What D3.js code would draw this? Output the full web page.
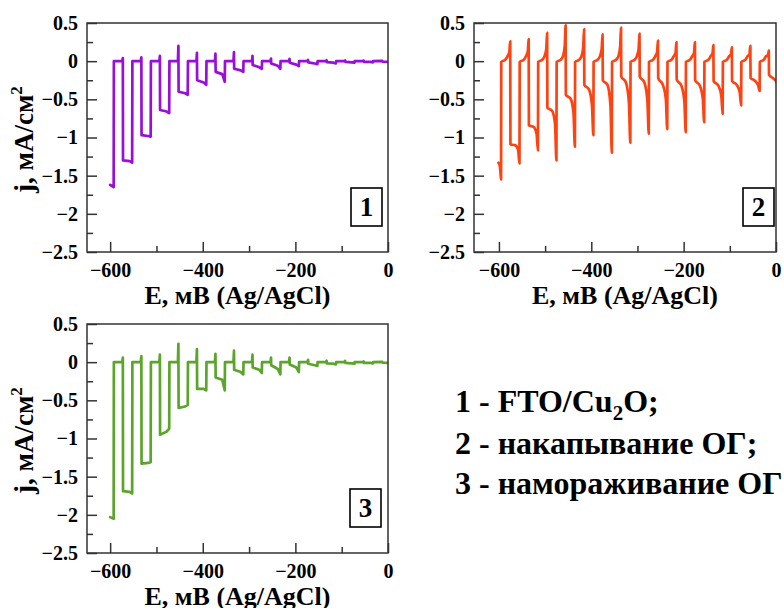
<!DOCTYPE html>
<html><head><meta charset="utf-8">
<script src="https://cdn.jsdelivr.net/npm/d3@7/dist/d3.min.js"></script>
<style>body{margin:0;background:#fff}svg{display:block}</style>
</head><body>
<svg id="chart" width="784" height="608"></svg>
<script>
// ---------- data ----------
const xMajor = [-600, -400, -200, 0];
const xMinor = [-500, -300, -100];
const xTickLabels = ["\u2212600", "\u2212400", "\u2212200", "0"];
const yMajor = [0.5, 0, -0.5, -1, -1.5, -2, -2.5];
const yMinor = [0.25, -0.25, -0.75, -1.25, -1.75, -2.25];
const yTickLabels = ["0.5", "0", "\u22120.5", "\u22121", "\u22121.5", "\u22122", "\u22122.5"];

// panel 1 (FTO/Cu2O): dark onset potentials and per-cycle values
const darkOn1 = [-592, -552, -512, -472, -432, -392, -352, -312, -272, -232, -192, -152, -112, -72, -32];
const start1 = [-1.62, -1.65];
const spike1 = [0.04, 0.05, 0.07, 0.20, 0.11, 0.10, 0.12, 0.07, 0.035, 0.03, 0.015, 0.012, 0.01, 0.008, 0.005];
const lightA1 = [-1.30, -0.97, -0.64, -0.40, -0.25, -0.14, -0.10, -0.05, -0.03, -0.02, -0.015, -0.012, -0.01, -0.008, -0.005];
const lightB1 = [-1.31, -0.98, -0.66, -0.42, -0.28, -0.17, -0.12, -0.08, -0.06, -0.045, -0.03, -0.02, -0.015, -0.01, -0.01];
const lightC1 = [-1.33, -0.99, -0.68, -0.44, -0.31, -0.27, -0.14, -0.10, -0.10, -0.065, -0.04, -0.03, -0.02, -0.015, -0.01];

// panel 2 (накапывание ОГ)
const darkOn2 = [-595, -555, -515, -475, -435, -395, -355, -315, -275, -235, -195, -155, -115, -75, -35];
const start2 = [-1.33, -1.36, -1.45, -1.55];
const pre2 = [0.12, 0.13, 0.16, 0.20, 0.18, 0.16, 0.19, 0.16, 0.12, 0.11, 0.11, 0.10, 0.09, 0.09, 0.07];
const peak2 = [0.26, 0.29, 0.37, 0.47, 0.42, 0.35, 0.44, 0.36, 0.27, 0.25, 0.25, 0.21, 0.18, 0.20, 0.14];
const level2 = [-1.09, -0.84, -0.61, -0.44, -0.31, -0.25, -0.20, -0.20, -0.22, -0.24, -0.25, -0.26, -0.26, -0.22, -0.18];
const mid2 = [-1.10, -0.86, -0.65, -0.49, -0.37, -0.31, -0.28, -0.28, -0.31, -0.32, -0.32, -0.32, -0.31, -0.26, -0.23];
const knee2 = [-1.16, -0.95, -0.82, -0.68, -0.58, -0.58, -0.54, -0.52, -0.50, -0.52, -0.49, -0.45, -0.41, -0.32, -0.28];
const dip2 = [-1.34, -1.17, -1.30, -1.12, -0.97, -1.20, -1.07, -0.95, -0.89, -0.93, -0.80, -0.69, -0.58, -0.39, -0.35];

// panel 3 (намораживание ОГ)
const darkOn3 = [-592, -552, -512, -472, -432, -392, -352, -312, -272, -232, -192, -152, -112, -72, -32];
const start3 = [-2.03, -2.05];
const spike3 = [0.06, 0.08, 0.10, 0.24, 0.17, 0.11, 0.15, 0.10, 0.06, 0.06, 0.03, 0.02, 0.015, 0.01, 0.005];
const lightA3 = [-1.69, -1.33, -0.95, -0.60, -0.35, -0.20, -0.10, -0.07, -0.04, -0.03, -0.02, -0.015, -0.01, -0.01, -0.005];
const lightB3 = [-1.70, -1.32, -0.91, -0.58, -0.35, -0.23, -0.13, -0.10, -0.09, -0.07, -0.04, -0.02, -0.015, -0.01, -0.01];
const lightC3 = [-1.72, -1.31, -0.87, -0.56, -0.37, -0.37, -0.16, -0.14, -0.16, -0.13, -0.05, -0.03, -0.02, -0.015, -0.01];

const legendLines = ["1 - FTO/Cu", "2 - накапывание ОГ;", "3 - намораживание ОГ"];
const xLabel = "E, мВ (Ag/AgCl)";

// ---------- builders ----------
function squarePulse(darkOn, start, spike, a, b, c) {
  const pts = [[-600, start[0]], [darkOn[0] - 0.4, start[1]]];
  darkOn.forEach((e, i) => {
    pts.push([e, 0], [e + 18.3, 0.003], [e + 19.4, spike[i]], [e + 19.8, a[i]],
             [e + 34, b[i]], [e + 39.5, c[i]]);
  });
  return pts;
}
function transientPulse() {
  const pts = [[-601, start2[0]], [-598.5, start2[1]], [-596.8, start2[2]], [-595.4, start2[3]]];
  darkOn2.forEach((e, i) => {
    pts.push([e, -0.01], [e + 9, 0.02], [e + 14, 0.07], [e + 17.5, pre2[i]], [e + 19.4, peak2[i]],
             [e + 19.9, level2[i]], [e + 30, mid2[i]], [e + 36.5, knee2[i]], [e + 39.5, dip2[i]]);
  });
  return pts;
}

const panels = [
  {n: "1", x: 87, y: 23, w: 301, h: 229, xmin: -650, color: "#9a0fd8", ylab: true, bx: 351,
   pts: squarePulse(darkOn1, start1, spike1, lightA1, lightB1, lightC1), curve: d3.curveLinear},
  {n: "2", x: 474, y: 23, w: 302, h: 229, xmin: -654, color: "#ff4211", ylab: false, bx: 743,
   pts: transientPulse(), curve: d3.curveMonotoneX},
  {n: "3", x: 87, y: 324, w: 301, h: 229, xmin: -650, color: "#5aa52a", ylab: true, bx: 350,
   pts: squarePulse(darkOn3, start3, spike3, lightA3, lightB3, lightC3), curve: d3.curveLinear}
];

const svg = d3.select("#chart");
const FONT = "Liberation Serif, Times New Roman, serif";
const axisColor = "#333";

panels.forEach((p, idx) => {
  const g = svg.append("g").attr("transform", `translate(${p.x},${p.y})`);
  const x = d3.scaleLinear().domain([p.xmin, 0]).range([0, p.w]);
  const y = d3.scaleLinear().domain([-2.5, 0.5]).range([p.h, 0]);

  g.append("clipPath").attr("id", "clip" + idx)
    .append("rect").attr("width", p.w).attr("height", p.h);

  const styleAxis = sel => {
    sel.select(".domain").remove();
    sel.selectAll(".tick line").attr("stroke", axisColor).attr("stroke-width", 1.5);
    sel.selectAll(".tick text").attr("font-family", FONT).attr("font-weight", "bold")
      .attr("font-size", 20).attr("fill", "#000");
  };
  // minor ticks
  g.append("g").call(d3.axisLeft(y).tickValues(yMinor).tickSize(-6).tickFormat("")).call(styleAxis);
  g.append("g").attr("transform", `translate(0,${p.h})`)
    .call(d3.axisBottom(x).tickValues(xMinor).tickSize(-6).tickFormat("")).call(styleAxis);
  // major ticks
  g.append("g").call(d3.axisLeft(y).tickValues(yMajor).tickSize(-10).tickPadding(9)
    .tickFormat((d, i) => yTickLabels[i])).call(styleAxis);
  g.append("g").attr("transform", `translate(0,${p.h})`)
    .call(d3.axisBottom(x).tickValues(xMajor).tickSize(-10).tickPadding(11)
      .tickFormat((d, i) => xTickLabels[i])).call(styleAxis);

  // data line
  const line = d3.line().x(d => x(d[0])).y(d => y(d[1])).curve(p.curve);
  g.append("path").datum(p.pts).attr("clip-path", `url(#clip${idx})`)
    .attr("d", line).attr("fill", "none").attr("stroke", p.color)
    .attr("stroke-width", 2.7).attr("stroke-linejoin", "round").attr("stroke-linecap", "round");

  // frame
  g.append("rect").attr("width", p.w).attr("height", p.h)
    .attr("fill", "none").attr("stroke", axisColor).attr("stroke-width", 1.5);

  // number box
  const bxl = p.bx - p.x;
  g.append("rect").attr("x", bxl).attr("y", 165).attr("width", 31).attr("height", 38)
    .attr("fill", "#fff").attr("stroke", "#000").attr("stroke-width", 1.6);
  g.append("text").attr("x", bxl + 15.5).attr("y", 193).attr("text-anchor", "middle")
    .attr("font-family", FONT).attr("font-weight", "bold").attr("font-size", 27).text(p.n);

  // axis labels
  g.append("text").attr("x", p.w / 2).attr("y", p.h + 52).attr("text-anchor", "middle")
    .attr("font-family", FONT).attr("font-weight", "bold").attr("font-size", 26).text(xLabel);
  if (p.ylab) {
    const t = g.append("text").attr("transform", `translate(${33 - p.x},${p.h / 2 + 2}) rotate(-90)`)
      .attr("text-anchor", "middle").attr("font-family", FONT).attr("font-weight", "bold")
      .attr("font-size", 27);
    t.append("tspan").text("j, мА/см");
    t.append("tspan").attr("font-size", 17).attr("dy", -11).text("2");
  }
});

// legend
const lg = svg.append("g").attr("font-family", FONT).attr("font-weight", "bold").attr("font-size", 32);
const l1 = lg.append("text").attr("x", 455).attr("y", 412);
l1.append("tspan").text(legendLines[0]);
l1.append("tspan").attr("font-size", 21).attr("dy", 8).text("2");
l1.append("tspan").attr("dy", -8).text("O;");
lg.append("text").attr("x", 455).attr("y", 454).text(legendLines[1]);
lg.append("text").attr("x", 455).attr("y", 494).text(legendLines[2]);
</script>
</body></html>
